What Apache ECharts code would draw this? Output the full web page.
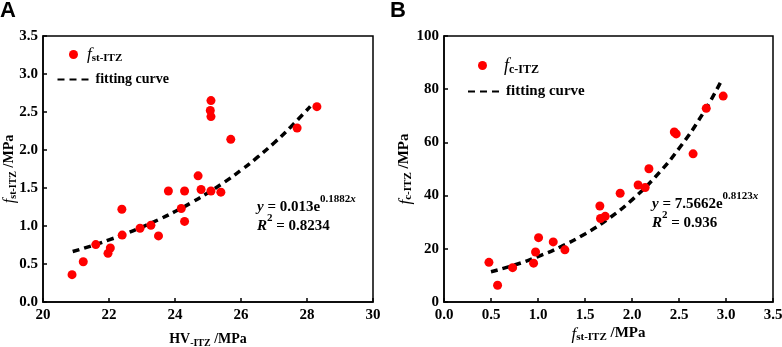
<!DOCTYPE html>
<html>
<head>
<meta charset="utf-8">
<script src="https://cdn.jsdelivr.net/npm/echarts@6/dist/echarts.min.js"></script>
<style>html,body{margin:0;padding:0;background:#fff}#main{width:782px;height:347px}</style>
</head>
<body>
<div id="main"></div>
<script>
// panel A: HV-ITZ vs fst-ITZ
var hvITZ = [20.88, 21.22, 21.6, 21.97, 22.04, 22.39, 22.4, 22.94, 23.27, 23.5, 23.8, 24.19, 24.29, 24.29, 24.7, 24.79, 25.09, 25.07, 25.09, 25.09, 25.39, 25.69, 27.7, 28.3];
var fstITZ = [0.36, 0.53, 0.755, 0.64, 0.71, 1.22, 0.88, 0.97, 1.01, 0.87, 1.46, 1.23, 1.46, 1.06, 1.66, 1.48, 2.65, 2.52, 2.44, 1.46, 1.445, 2.14, 2.29, 2.57];
var fitAx = [20.9, 21.5, 22, 22.5, 23, 23.5, 24, 24.5, 25, 25.5, 26, 26.5, 27, 27.5, 28.1];
var fitAy = [0.664, 0.743, 0.817, 0.897, 0.986, 1.083, 1.19, 1.308, 1.437, 1.578, 1.734, 1.905, 2.093, 2.3, 2.574];

// panel B: fst-ITZ vs fc-ITZ
var fstB = [0.478, 0.57, 0.73, 0.953, 0.974, 1.006, 1.162, 1.286, 1.658, 1.665, 1.715, 1.874, 2.065, 2.14, 2.18, 2.45, 2.47, 2.65, 2.79, 2.97];
var fcB = [14.9, 6.3, 12.9, 14.6, 18.8, 24.2, 22.6, 19.6, 36.1, 31.4, 32.2, 40.9, 44.0, 43.0, 50.1, 63.9, 63.2, 55.7, 72.8, 77.4];
var fitBx = [0.5, 0.75, 1.0, 1.25, 1.5, 1.75, 2.0, 2.25, 2.5, 2.75, 2.95];
var fitBy = [11.4, 13.9, 17.1, 20.9, 25.6, 31.3, 38.4, 47.1, 57.7, 70.6, 83.1];

var serif = 'Liberation Serif';

function pairs(xs, ys) {
    return xs.map(function (x, i) { return [x, ys[i]]; });
}

// rich styles for italic f with a lowered subscript
function subRich(size, padLeft) {
    return {
        i: {fontFamily: serif, fontStyle: 'italic', fontSize: size + 2, lineHeight: 16, verticalAlign: 'top', color: '#000', padding: [0, 0, 0, padLeft || 0]},
        b: {fontFamily: serif, fontWeight: 'bold', fontSize: size, lineHeight: 16, verticalAlign: 'top', color: '#000'},
        s: {fontFamily: serif, fontWeight: 'bold', fontSize: size - 4, lineHeight: 12, padding: [6, 0, 0, 0], verticalAlign: 'top', color: '#000'}
    };
}

// rich styles for equation with superscript
function supRich(size) {
    return {
        m: {fontFamily: serif, fontWeight: 'bold', fontSize: size, lineHeight: 18, padding: [6, 0, 0, 0], verticalAlign: 'top', fill: '#000'},
        mi: {fontFamily: serif, fontWeight: 'bold', fontStyle: 'italic', fontSize: size, lineHeight: 18, padding: [6, 0, 0, 0], verticalAlign: 'top', fill: '#000'},
        p: {fontFamily: serif, fontWeight: 'bold', fontSize: size - 4, lineHeight: 12, verticalAlign: 'top', fill: '#000'},
        pi: {fontFamily: serif, fontWeight: 'bold', fontStyle: 'italic', fontSize: size - 4, lineHeight: 12, verticalAlign: 'top', fill: '#000'}
    };
}

function valueAxis(grid, min, max, interval, fs, dec, name, rich, gap, isX) {
    return {
        type: 'value', gridIndex: grid, min: min, max: max, interval: interval,
        name: name, nameLocation: 'middle', nameGap: gap, nameMoveOverlap: false,
        nameTextStyle: {rich: rich},
        axisLine: {show: true, onZero: false, lineStyle: {color: '#000', width: 1.5}},
        axisTick: {show: true, inside: true, length: 4, lineStyle: {color: '#000', width: 1.5}},
        axisLabel: {
            color: '#000', fontFamily: serif, fontWeight: 'bold', fontSize: fs, margin: isX ? 6 : 5,
            formatter: function (v) { return v.toFixed(dec); }
        },
        splitLine: {show: false}
    };
}

var fitLine = {color: '#000', width: 3.5, type: [7, 5]};

var myChart = echarts.init(document.getElementById('main'));
option = {
    animation: false,
    grid: [
        {left: 43, top: 36, width: 330, height: 266, show: true, borderColor: '#000', borderWidth: 1.5,
         containLabel: false, outerBoundsMode: 'none'},
        {left: 444, top: 36, width: 329, height: 266, show: true, borderColor: '#000', borderWidth: 1.5,
         containLabel: false, outerBoundsMode: 'none'}
    ],
    xAxis: [
        valueAxis(0, 20, 30, 2, 15, 0, '{b|HV}{s|-ITZ}{b| /MPa}', subRich(14), 30, true),
        valueAxis(1, 0, 3.5, 0.5, 15, 1, '{i|f}{s|st-ITZ}{b| /MPa}', subRich(15), 24, true)
    ],
    yAxis: [
        valueAxis(0, 0, 3.5, 0.5, 15, 1, '{i|f}{s|st-ITZ}{b| /MPa}', subRich(14), 25, false),
        valueAxis(1, 0, 100, 20, 15, 0, '{i|f}{s|c-ITZ}{b| /MPa}', subRich(15), 31, false)
    ],
    legend: [
        {left: 69, top: 46.5, padding: 0, itemWidth: 9, itemHeight: 9, data: ['fstA'],
         formatter: '{i|f}{s|st-ITZ}', textStyle: {rich: subRich(15, 4)}},
        {left: 56.5, top: 72.5, padding: 0, itemWidth: 33, itemHeight: 4,
         data: [{name: 'fitA', itemStyle: {opacity: 0}}], formatter: 'fitting curve',
         textStyle: {fontFamily: serif, fontWeight: 'bold', fontSize: 14, color: '#000'}},
        {left: 478, top: 57.5, padding: 0, itemWidth: 9, itemHeight: 9, data: ['fcB'],
         formatter: '{i|f}{s|c-ITZ}', textStyle: {rich: subRich(16, 12)}},
        {left: 467, top: 84, padding: 0, itemWidth: 33, itemHeight: 4,
         data: [{name: 'fitB', itemStyle: {opacity: 0}}], formatter: 'fitting curve',
         textStyle: {fontFamily: serif, fontWeight: 'bold', fontSize: 15, color: '#000'}}
    ],
    graphic: [
        {type: 'text', left: 0, top: 0, style: {text: 'A', font: 'bold 22px "Liberation Sans"', fill: '#000'}},
        {type: 'text', left: 390, top: 0, style: {text: 'B', font: 'bold 22px "Liberation Sans"', fill: '#000'}},
        {type: 'text', x: 257, y: 194, style: {text: '{mi|y}{m| = 0.013e}{p|0.1882}{pi|x}', rich: supRich(15)}},
        {type: 'text', x: 257, y: 213, style: {text: '{mi|R}{p|2}{m| = 0.8234}', rich: supRich(15)}},
        {type: 'text', x: 652, y: 191, style: {text: '{mi|y}{m| = 7.5662e}{p|0.8123}{pi|x}', rich: supRich(15)}},
        {type: 'text', x: 652, y: 210, style: {text: '{mi|R}{p|2}{m| = 0.936}', rich: supRich(15)}}
    ],
    series: [
        {name: 'fitA', type: 'line', xAxisIndex: 0, yAxisIndex: 0, data: pairs(fitAx, fitAy),
         smooth: true, symbol: 'none', lineStyle: fitLine, itemStyle: {color: '#000'}, z: 1},
        {name: 'fstA', type: 'scatter', xAxisIndex: 0, yAxisIndex: 0, data: pairs(hvITZ, fstITZ),
         symbolSize: 9, itemStyle: {color: '#ff0000', opacity: 1}, z: 2},
        {name: 'fitB', type: 'line', xAxisIndex: 1, yAxisIndex: 1, data: pairs(fitBx, fitBy),
         smooth: true, symbol: 'none', lineStyle: fitLine, itemStyle: {color: '#000'}, z: 1},
        {name: 'fcB', type: 'scatter', xAxisIndex: 1, yAxisIndex: 1, data: pairs(fstB, fcB),
         symbolSize: 9, itemStyle: {color: '#ff0000', opacity: 1}, z: 2}
    ]
};
myChart.setOption(option);
</script>
</body>
</html>
